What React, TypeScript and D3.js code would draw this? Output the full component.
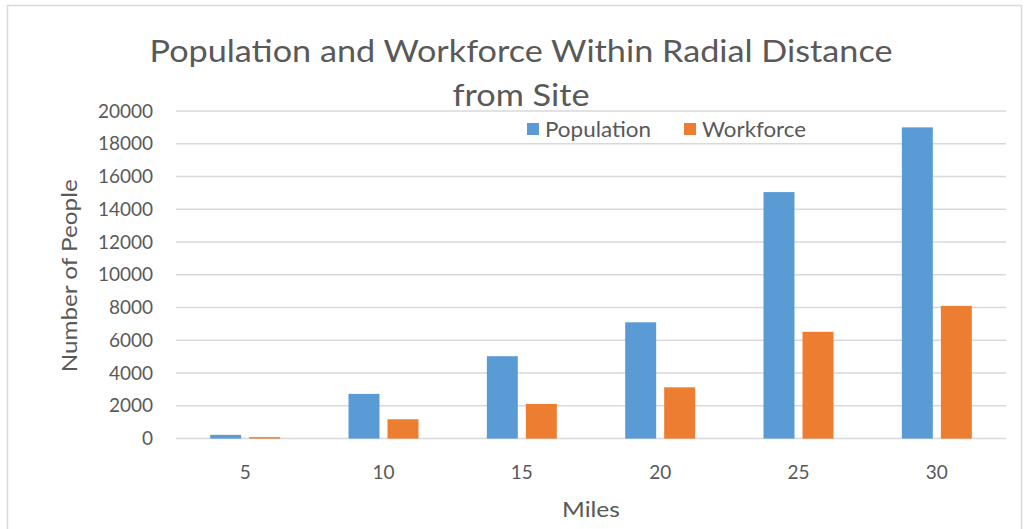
import React from "react";
import * as d3 from "d3";

// Radial distance categories (miles) and counts per category
const miles = ["5", "10", "15", "20", "25", "30"];
const population = [230, 2730, 5030, 7100, 15050, 19000];
const workforce = [90, 1180, 2120, 3130, 6520, 8100];
const yTicks = [0, 2000, 4000, 6000, 8000, 10000, 12000, 14000, 16000, 18000, 20000];

const seriesNames = ["Population", "Workforce"];
const colors = ["#5B9BD5", "#ED7D31"];

const W = 1029;
const H = 529;
const FONT = "Lato, 'Open Sans', sans-serif";
const TEXT = "#595959";

export default function App() {
  const left = 176;
  const right = 1006;
  const x = d3.scaleBand<string>().domain(miles).range([left, right]).padding(0);
  const y = d3.scaleLinear().domain([0, 20000]).range([438.6, 111]);
  const bw = x.bandwidth();
  const barW = bw * 0.224;
  const gap = bw * 0.058;
  const offset = (bw - (2 * barW + gap)) / 2;
  const series = [population, workforce];
  const legendX = [527, 684];
  const legendLen = [106, 104];

  return (
    <svg
      width={W}
      height={H}
      style={{ position: "absolute", left: 0, top: 0, background: "#fff" }}
    >
      <rect x={7.5} y={5.5} width={1014} height={600} fill="#fff" stroke="#d9d9d9" strokeWidth={1.5} />

      <g fontFamily={FONT} fill={TEXT}>
        <text x={521} y={62} textAnchor="middle" fontSize={31} textLength={743} lengthAdjust="spacingAndGlyphs">
          Population and Workforce Within Radial Distance
        </text>
        <text x={521} y={106} textAnchor="middle" fontSize={31} textLength={137} lengthAdjust="spacingAndGlyphs">
          from Site
        </text>
      </g>

      {/* horizontal gridlines */}
      {yTicks.map((t) => (
        <line key={t} x1={left} x2={right} y1={y(t)} y2={y(t)} stroke="#d9d9d9" strokeWidth={1.5} />
      ))}

      {/* bars */}
      {miles.map((m, i) => (
        <g key={m}>
          {series.map((vals, s) => (
            <rect
              key={s}
              x={(x(m) as number) + offset + s * (barW + gap)}
              y={y(vals[i])}
              width={barW}
              height={y(0) - y(vals[i])}
              fill={colors[s]}
            />
          ))}
        </g>
      ))}

      <g fontFamily={FONT} fill={TEXT} fontSize={19}>
        {yTicks.map((t) => (
          <text key={t} x={153} y={y(t)} dy="0.35em" textAnchor="end">
            {t}
          </text>
        ))}
        {miles.map((m) => (
          <text key={m} x={(x(m) as number) + bw / 2} y={479} textAnchor="middle">
            {m}
          </text>
        ))}
      </g>

      <g fontFamily={FONT} fill={TEXT} fontSize={22}>
        <text x={(left + right) / 2} y={517} textAnchor="middle" textLength={58} lengthAdjust="spacingAndGlyphs">
          Miles
        </text>
        <text
          transform={`translate(77, ${(y(0) + y(20000)) / 2 + 1}) rotate(-90)`}
          textAnchor="middle"
          textLength={193}
          lengthAdjust="spacingAndGlyphs"
        >
          Number of People
        </text>
      </g>

      {/* legend */}
      <g fontFamily={FONT} fill={TEXT} fontSize={21}>
        {seriesNames.map((n, i) => (
          <g key={n}>
            <rect x={legendX[i]} y={123} width={12} height={12} fill={colors[i]} />
            <text x={legendX[i] + 18} y={137} textLength={legendLen[i]} lengthAdjust="spacingAndGlyphs">
              {n}
            </text>
          </g>
        ))}
      </g>
    </svg>
  );
}
